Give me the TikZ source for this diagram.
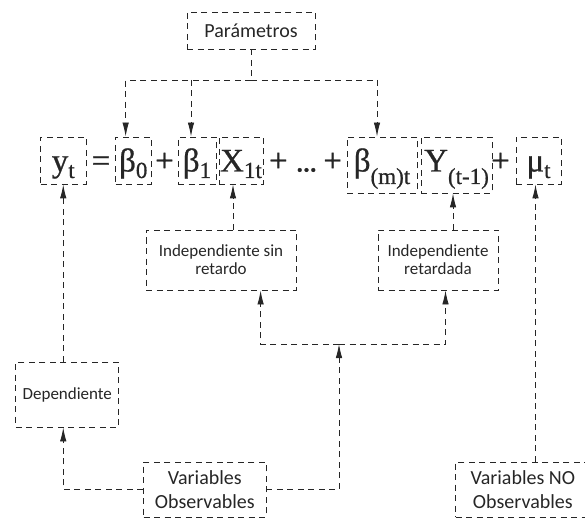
\documentclass[tikz,border=0pt]{standalone}
\usepackage{fontspec}
\setmainfont{Carlito}
\newfontfamily\eqfont[FakeBold=0.7]{Liberation Serif}
\usetikzlibrary{arrows.meta,calc}
\definecolor{ink}{HTML}{262626}
% subscripts of the equation: normal and lowered
\newcommand\eqsub[1]{\raisebox{-6.5pt}{\fontsize{23}{23}\selectfont #1}}
\newcommand\eqlowsub[1]{\raisebox{-12.5pt}{\fontsize{23}{23}\selectfont #1}}
% tight ellipsis
\newcommand\tightdots{.\kern-1.5pt.\kern-1.5pt.}
\tikzset{
  dbox/.style={draw=ink, text=ink, line width=0.9pt, dash pattern=on 6pt off 4.5pt,
    inner sep=0pt, align=center},
  eqbox/.style={dbox, font=\eqfont\fontsize{33}{33}\selectfont,
    text height=34.5pt, text depth=12.5pt, anchor=base},
  eqtall/.style={eqbox, text depth=21.5pt},
  eqsign/.style={text=ink, font=\eqfont\fontsize{33}{33}\selectfont, inner sep=0pt, anchor=base},
  lbl/.style={dbox, font=\fontsize{17}{18.3}\selectfont},
  biglbl/.style={dbox, font=\fontsize{20}{23.5}\selectfont},
  link/.style={draw=ink, line width=0.9pt, dash pattern=on 6pt off 4.5pt},
  arr/.style={link, -{Latex[length=14pt,width=6.5pt]}}
}
\begin{document}
\begin{tikzpicture}[x=1pt,y=-1pt]
\useasboundingbox (0,0) rectangle (585,518);
\clip (0,0) rectangle (585,518);

% parameters box
\node[biglbl, minimum width=128pt, minimum height=37pt] (param) at (251,30.5) {Parámetros};

% the equation
\node[eqbox, minimum width=45.5pt] (yt) at (63.25,171.5) {y\eqsub{t}};
\node[eqsign] (eq) at (101,171.5) {=};
\node[eqbox, minimum width=35.5pt] (b0) at (133.25,171.5) {β\eqsub{0}};
\node[eqsign] (p1) at (164.5,171.5) {+};
\node[eqbox, minimum width=38pt] (b1) at (197,171.5) {β\eqsub{1}};
\node[eqbox, minimum width=44pt] (x1) at (241,171.5) {X\eqsub{1t}};
\node[eqsign] (dots) at (305.5,171.5) {+\kern8pt\tightdots\kern6pt+};
\node[eqtall, minimum width=70pt] (bm) at (382,171.5) {β\eqlowsub{(m)t}};
\node[eqtall, minimum width=71pt] (ylag) at (456.5,171.5) {Y\eqlowsub{(t-1)}};
\node[eqsign] (p3) at (500.5,171.5) {+};
\node[eqbox, minimum width=45pt] (mu) at (538.5,171.5) {μ\eqsub{t}};

% classification boxes
\node[lbl, minimum width=150pt, minimum height=60pt] (ind1) at (221,260) {Independiente sin\\retardo};
\node[lbl, minimum width=120pt, minimum height=60pt] (ind2) at (438,260) {Independiente\\retardada};
\node[lbl, minimum width=103pt, minimum height=65pt] (dep) at (67.3,394.5) {Dependiente};
\node[biglbl, minimum width=122.4pt, minimum height=55pt] (obs) at (204.8,489.5) {Variables\\Observables};
\node[biglbl, minimum width=134.4pt, minimum height=55pt] (noobs) at (522.8,489.5) {Variables NO\\Observables};

% parameters feed the coefficients
\coordinate (hub) at (251,80);
\coordinate (b0in) at ([xshift=-7.6pt]b0.north);
\coordinate (b1in) at ([xshift=-6pt]b1.north);
\coordinate (bmin) at ([xshift=-5pt]bm.north);
\draw[link] (param.south) -- (hub);
\draw[arr] (hub) -| (b0in);
\draw[arr] (hub) -| (bmin);
\draw[arr] (b1in |- hub) -- (b1in);

% variables feed the terms
\coordinate (x1in) at ([xshift=-8pt]x1.south);
\coordinate (ylin) at ([xshift=-3.5pt]ylag.south);
\coordinate (muin) at ([xshift=-3pt]mu.south);
\draw[arr] (dep.north -| yt.south) -- (yt.south);
\draw[arr] (ind1.north -| x1in) -- (x1in);
\draw[arr] (ind2.north -| ylin) -- (ylin);
\draw[arr] (noobs.north -| muin) -- (muin);

% observable variables split into dependent and independent
\coordinate (split) at (339,344);
\draw[arr] (obs.east) -| (split);
\draw[arr] (split) -| ([xshift=39.6pt]ind1.south);
\draw[arr] (split) -| ([xshift=7.5pt]ind2.south);
\draw[arr] (obs.west) -| (dep.south -| yt.south);
\end{tikzpicture}
\end{document}
